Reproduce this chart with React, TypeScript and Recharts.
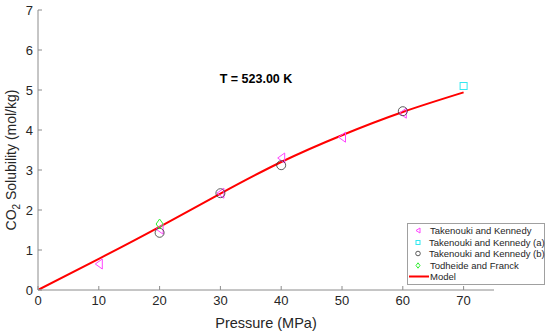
import { ComposedChart, Label, Line, Scatter, XAxis, YAxis } from "recharts"

const pressureTK = [10, 20, 30, 40, 50, 60]
const solubilityTK = [0.65, 1.52, 2.42, 3.3, 3.82, 4.42]
const pressureTKa = [70]
const solubilityTKa = [5.1]
const pressureTKb = [20, 30, 40, 60]
const solubilityTKb = [1.43, 2.42, 3.12, 4.47]
const pressureTF = [20]
const solubilityTF = [1.65]
const pressureModel = [0, 10, 20, 30, 40, 50, 60, 70]
const solubilityModel = [0, 0.78, 1.58, 2.41, 3.2, 3.87, 4.45, 4.94]
const xTicks = [0, 10, 20, 30, 40, 50, 60, 70]
const yTicks = [0, 1, 2, 3, 4, 5, 6, 7]

const toPoints = (xs: number[], ys: number[]) => xs.map((x, i) => ({ x, y: ys[i] }))

const dataTK = toPoints(pressureTK, solubilityTK)
const dataTKa = toPoints(pressureTKa, solubilityTKa)
const dataTKb = toPoints(pressureTKb, solubilityTKb)
const dataTF = toPoints(pressureTF, solubilityTF)
const dataModel = toPoints(pressureModel, solubilityModel)

const axisColor = "#8c8c8c"
const textColor = "#262626"
const font = "'Liberation Sans', Arial, sans-serif"

const Triangle = ({ cx, cy }: any) => (
  <path d={`M${cx - 3.5},${cy} L${cx + 3.5},${cy - 5} L${cx + 3.5},${cy + 5} Z`} fill="none" stroke="#ff44ff" strokeWidth={1} />
)
const Square = ({ cx, cy }: any) => (
  <rect x={cx - 3.5} y={cy - 3.5} width={7} height={7} fill="none" stroke="#33e8f0" strokeWidth={1} />
)
const Circle = ({ cx, cy }: any) => <circle cx={cx} cy={cy} r={4.5} fill="none" stroke="#333333" strokeWidth={0.8} />
const Diamond = ({ cx, cy }: any) => (
  <path d={`M${cx},${cy - 5} L${cx + 3.5},${cy} L${cx},${cy + 5} L${cx - 3.5},${cy} Z`} fill="none" stroke="#33ee33" strokeWidth={1} />
)

const legendItems = [
  { label: "Takenouki and Kennedy", shape: "tri" },
  { label: "Takenouki and Kennedy (a)", shape: "sq" },
  { label: "Takenouki and Kennedy (b)", shape: "circ" },
  { label: "Todheide and Franck", shape: "dia" },
  { label: "Model", shape: "line" },
]

function LegendMarker({ shape }: { shape: string }) {
  return (
    <svg width={21} height={11} style={{ display: "block" }}>
      {shape === "tri" && <path d="M8,5.5 L12,3 L12,8 Z" fill="none" stroke="#ff44ff" />}
      {shape === "sq" && <rect x={8} y={3.5} width={4} height={4} fill="none" stroke="#33e8f0" />}
      {shape === "circ" && <circle cx={10} cy={5.5} r={2.3} fill="none" stroke="#333" strokeWidth={0.8} />}
      {shape === "dia" && <path d="M10,2.8 L12,5.5 L10,8.2 L8,5.5 Z" fill="none" stroke="#33ee33" />}
      {shape === "line" && <line x1={1} x2={21} y1={5.5} y2={5.5} stroke="#ff0000" strokeWidth={2} />}
    </svg>
  )
}

const YAxisLabel = ({ viewBox }: any) => {
  const cy = viewBox.y + viewBox.height / 2 + 10
  return (
    <text transform={`translate(15.5, ${cy}) rotate(-90)`} textAnchor="middle" fontSize={14} fill={textColor} fontFamily={font}>
      CO
      <tspan fontSize={10} dy={4}>
        2
      </tspan>
      <tspan dy={-4}> Solubility (mol/kg)</tspan>
    </text>
  )
}

export default function App() {
  return (
    <div style={{ position: "absolute", left: 0, top: 0, width: 550, height: 332, background: "#fff", fontFamily: font }}>
      <ComposedChart width={550} height={332} margin={{ top: 10, right: 56, bottom: 0, left: 0 }}>
        <XAxis
          type="number"
          dataKey="x"
          domain={[0, 75]}
          ticks={xTicks}
          allowDataOverflow
          stroke={axisColor}
          tickSize={-4}
          tickMargin={10}
          height={42}
          tick={{ fill: textColor, fontSize: 13 }}
        >
          <Label value="Pressure (MPa)" position="insideBottom" offset={4} fill={textColor} fontSize={14.5} />
        </XAxis>
        <YAxis
          type="number"
          dataKey="y"
          domain={[0, 7]}
          ticks={yTicks}
          allowDataOverflow
          stroke={axisColor}
          tickSize={-4}
          tickMargin={9}
          width={38}
          tick={{ fill: textColor, fontSize: 13 }}
        >
          <Label content={<YAxisLabel />} />
        </YAxis>
        <Line data={dataModel} dataKey="y" type="natural" stroke="#ff0000" strokeWidth={2} dot={false} isAnimationActive={false} />
        <Scatter data={dataTK} shape={<Triangle />} isAnimationActive={false} />
        <Scatter data={dataTKa} shape={<Square />} isAnimationActive={false} />
        <Scatter data={dataTKb} shape={<Circle />} isAnimationActive={false} />
        <Scatter data={dataTF} shape={<Diamond />} isAnimationActive={false} />
      </ComposedChart>
      <div
        style={{
          position: "absolute",
          left: 218,
          top: 72,
          width: 76,
          textAlign: "center",
          fontWeight: "bold",
          fontSize: 12.5,
          color: "#000",
          whiteSpace: "nowrap",
        }}
      >
        T = 523.00 K
      </div>
      <div
        style={{
          position: "absolute",
          left: 407,
          top: 223,
          width: 136,
          height: 58,
          border: "1px solid #a0a0a0",
          background: "#fff",
          padding: "1px 0",
          boxSizing: "content-box",
        }}
      >
        {legendItems.map((item) => (
          <div key={item.label} style={{ display: "flex", alignItems: "center", height: 11.5, fontSize: 9.5, color: textColor }}>
            <div style={{ width: 22, paddingLeft: 0 }}>
              <LegendMarker shape={item.shape} />
            </div>
            <span style={{ whiteSpace: "nowrap" }}>{item.label}</span>
          </div>
        ))}
      </div>
    </div>
  )
}
